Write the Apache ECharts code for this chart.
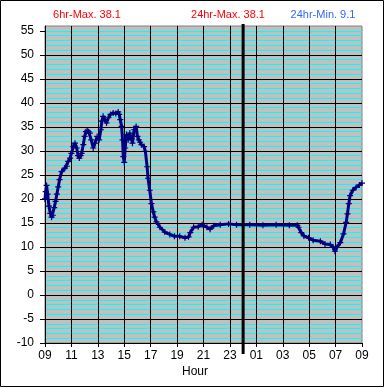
<!DOCTYPE html>
<html>
<head>
<meta charset="utf-8">
<script src="https://cdn.jsdelivr.net/npm/echarts@6/dist/echarts.min.js"></script>
<style>
html,body{margin:0;padding:0;background:#fff;}
#c{width:385px;height:388px;}
</style>
</head>
<body>
<div id="c"></div>
<script>
// hours since 09:00
const hours = [0.00,0.05,0.12,0.2,0.3,0.4,0.5,0.6,0.7,0.8,0.9,1.0,1.1,1.26,1.5,1.65,1.76,1.9,2.0,2.14,2.27,2.4,2.5,2.6,2.7,2.77,2.9,3.0,3.1,3.2,3.3,3.4,3.5,3.65,3.78,3.95,4.1,4.23,4.3,4.4,4.53,4.66,4.8,4.96,5.16,5.36,5.54,5.62,5.7,5.8,5.87,5.93,6.0,6.07,6.17,6.3,6.42,6.55,6.62,6.75,6.9,7.0,7.1,7.2,7.3,7.5,7.6,7.73,7.8,7.93,8.06,8.2,8.3,8.44,8.7,9.07,9.45,9.8,10.2,10.6,10.87,11.0,11.25,11.6,11.9,12.26,12.5,12.77,13.27,13.9,14.5,15.5,16.5,17.5,18.5,19.1,19.2,19.4,19.6,19.96,20.3,20.85,21.2,21.6,21.8,21.95,22.1,22.36,22.6,22.8,22.9,23.0,23.1,23.3,23.55,23.8,24.0];
const temps = [20.0,21.5,22.8,21.0,18.5,17.0,16.2,16.6,18.2,19.5,21.0,22.5,24.0,25.7,26.4,26.8,27.8,28.5,29.5,30.9,31.6,30.6,29.0,28.5,29.0,29.5,31.3,33.0,34.0,34.3,34.0,33.7,32.3,30.6,31.6,33.0,32.3,34.4,36.2,37.2,36.5,35.8,36.9,37.6,37.9,37.8,38.1,37.6,36.5,35.1,32.3,28.8,27.6,30.6,33.4,32.3,33.7,32.5,31.6,34.4,35.1,33.0,32.3,31.8,31.3,30.9,29.9,26.7,24.3,21.8,19.0,17.3,16.2,15.2,14.1,13.1,12.6,12.2,12.2,11.9,12.1,13.0,14.1,14.2,14.6,14.1,13.7,14.4,14.6,14.8,14.6,14.6,14.5,14.6,14.5,14.5,14.1,13.0,12.3,11.9,11.4,11.2,10.6,10.5,10.0,9.1,9.9,10.9,12.7,15.1,16.9,19.0,20.7,21.8,22.4,22.9,23.3];
const xTickValues = [0,2,4,6,8,10,12,14,16,18,20,22,24];
const xTickLabels = ['09','11','13','15','17','19','21','23','01','03','05','07','09'];
const yTickValues = [-10,-5,0,5,10,15,20,25,30,35,40,45,50,55];
const midnight = [15];
const titles = ['6hr-Max. 38.1','24hr-Max. 38.1','24hr-Min. 9.1'];
const xName = 'Hour';

const chart = echarts.init(document.getElementById('c'), null, {renderer:'canvas'});
const font = 'Liberation Sans, Arial, sans-serif';
const seriesData = hours.map((h,i)=>[h,temps[i]]);

chart.setOption({
  animation:false,
  backgroundColor:'#fff',
  grid:{left:45, top:26, width:317, height:317, show:true, backgroundColor:'#C0C0C0', borderColor:'#808080', borderWidth:1},
  graphic:[
    {type:'rect', shape:{x:0.5,y:0.5,width:383,height:386}, style:{fill:null, stroke:'#000', lineWidth:1}, silent:true},
    {type:'text', x:87, y:15, style:{text:titles[0], fill:'#FF0000', font:'11px '+font, textAlign:'center', textVerticalAlign:'middle'}},
    {type:'text', x:228, y:15, style:{text:titles[1], fill:'#FF0000', font:'11px '+font, textAlign:'center', textVerticalAlign:'middle'}},
    {type:'text', x:323, y:15, style:{text:titles[2], fill:'#3366FF', font:'11px '+font, textAlign:'center', textVerticalAlign:'middle'}},
    {type:'text', x:195, y:372, style:{text:xName, fill:'#000', font:'12px '+font, textAlign:'center', textVerticalAlign:'middle'}}
  ],
  xAxis:[
    {type:'value', min:0, max:24, interval:1, z:2,
     axisLine:{show:true, onZero:false, lineStyle:{color:'#000'}},
     axisTick:{show:true, length:4, customValues:xTickValues, lineStyle:{color:'#000'}},
     axisLabel:{customValues:xTickValues, margin:7, color:'#000', fontSize:12, fontFamily:font,
       formatter:(v)=>{const i=xTickValues.indexOf(v); return i>=0?xTickLabels[i]:'';}},
     splitLine:{show:true, showMinLine:false, showMaxLine:false, lineStyle:{color:'#000', width:1}}
    }
  ],
  yAxis:[
    {type:'value', min:-10, max:56, interval:5, z:2,
     axisLine:{show:true, onZero:false, lineStyle:{color:'#000'}},
     axisTick:{show:true, length:5, customValues:yTickValues, lineStyle:{color:'#000'}},
     axisLabel:{customValues:yTickValues, margin:11, color:'#000', fontSize:12, fontFamily:font},
     splitLine:{show:true, showMinLine:false, showMaxLine:false, lineStyle:{color:'#000', width:1}}
    },
    {type:'value', min:-10, max:56, interval:1, z:1, position:'left',
     axisLine:{show:false}, axisTick:{show:false}, axisLabel:{show:false},
     splitLine:{show:true, showMinLine:false, showMaxLine:false, lineStyle:{color:'#00FFFF', width:1}}
    }
  ],
  series:[
    {type:'line', data:seriesData, z:5, yAxisIndex:0,
     showSymbol:true, symbol:'path://M2,0H3V2H5V3H3V5H2V3H0V2H2Z', symbolSize:6,
     itemStyle:{color:'#000080'},
     lineStyle:{color:'#000080', width:3}},
    {type:'custom', z:6, clip:false, data:midnight.map(v=>[v]),
     renderItem:(params, api)=>{
       const v = api.value(0);
       const p1 = api.coord([v, -10]);
       const p2 = api.coord([v, 56]);
       return {type:'line', shape:{x1:p1[0], y1:p1[1]+11, x2:p2[0], y2:p2[1]-2},
               style:{stroke:'#000', lineWidth:3}};
     }}
  ]
});
</script>
</body>
</html>
